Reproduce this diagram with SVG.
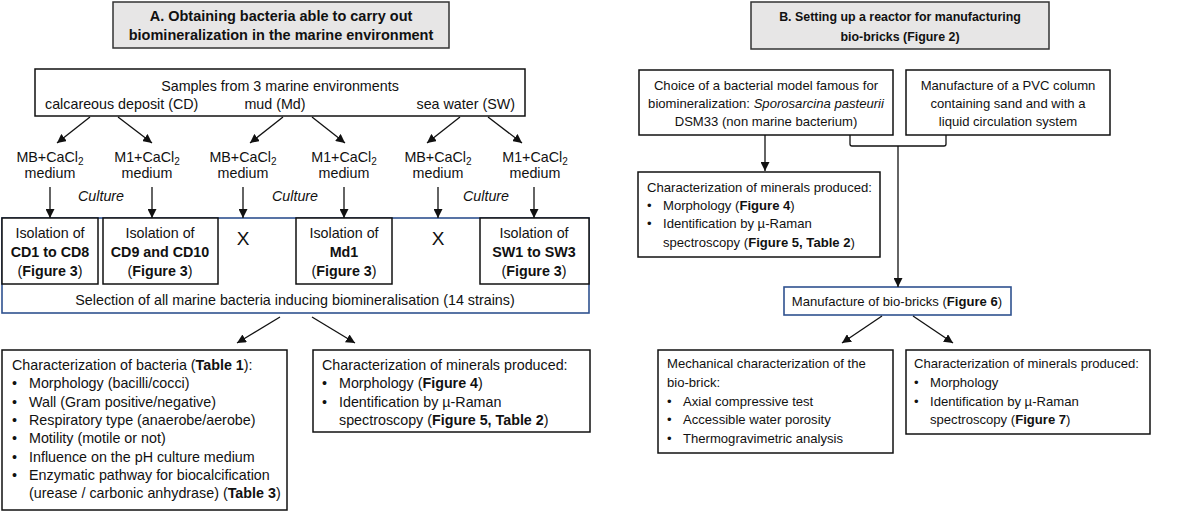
<svg xmlns="http://www.w3.org/2000/svg" width="1200" height="513" viewBox="0 0 1200 513">
<style>
text{font-family:"Liberation Sans",Arial,sans-serif;font-size:14.3px;fill:#111}
.R text{font-size:13.1px}
.c{text-anchor:middle}
.t{font-weight:bold;font-size:14.5px}
.R text.tb{font-weight:bold;font-size:12.4px}
.b{font-weight:bold}
.i{font-style:italic}
.box{fill:#fff;stroke:#111;stroke-width:1.5}
.blue{fill:#fff;stroke:#2F528F;stroke-width:1.6}
.title{fill:#E7E6E6;stroke:#333;stroke-width:1.5}
.ln{fill:none;stroke:#111;stroke-width:1.3}
.sub{font-size:10px}
.x{font-size:19px}
</style>
<defs>
<marker id="ah" viewBox="0 0 10 10" refX="10" refY="5" markerWidth="9" markerHeight="9" markerUnits="userSpaceOnUse" orient="auto">
<path d="M0,0 L10,5 L0,10 z" fill="#111"/>
</marker>
</defs>

<g id="titleA">
<rect class="title" x="113" y="2" width="336" height="46"/>
<text class="c t" x="281" y="21">A. Obtaining bacteria able to carry out</text>
<text class="c t" x="281" y="40">biomineralization in the marine environment</text>
</g>

<g id="samples">
<rect class="box" x="35" y="69" width="490" height="47"/>
<text class="c" x="280" y="91">Samples from 3 marine environments</text>
<text x="45" y="109">calcareous deposit (CD)</text>
<text class="c" x="275" y="109">mud (Md)</text>
<text x="515" y="109" style="text-anchor:end">sea water (SW)</text>
</g>

<g id="media">
<text class="c" x="50" y="162">MB+CaCl<tspan class="sub" dy="3">2</tspan></text>
<text class="c" x="50" y="178">medium</text>
<text class="c" x="147" y="162">M1+CaCl<tspan class="sub" dy="3">2</tspan></text>
<text class="c" x="147" y="178">medium</text>
<text class="c" x="243" y="162">MB+CaCl<tspan class="sub" dy="3">2</tspan></text>
<text class="c" x="243" y="178">medium</text>
<text class="c" x="344" y="162">M1+CaCl<tspan class="sub" dy="3">2</tspan></text>
<text class="c" x="344" y="178">medium</text>
<text class="c" x="438" y="162">MB+CaCl<tspan class="sub" dy="3">2</tspan></text>
<text class="c" x="438" y="178">medium</text>
<text class="c" x="535" y="162">M1+CaCl<tspan class="sub" dy="3">2</tspan></text>
<text class="c" x="535" y="178">medium</text>
<text class="c i" x="101" y="201">Culture</text>
<text class="c i" x="295" y="201">Culture</text>
<text class="c i" x="486" y="201">Culture</text>
</g>

<g id="selection">
<rect class="blue" x="2" y="218" width="587" height="95"/>
<text class="c" x="295" y="305">Selection of all marine bacteria inducing biomineralisation (14 strains)</text>
</g>

<g id="iso1">
<rect class="box" x="2" y="218" width="96" height="66"/>
<text class="c" x="50" y="238">Isolation of</text>
<text class="c b" x="50" y="257">CD1 to CD8</text>
<text class="c" x="50" y="276">(<tspan class="b">Figure 3</tspan>)</text>
</g>
<g id="iso2">
<rect class="box" x="103" y="218" width="115" height="66"/>
<text class="c" x="160" y="238">Isolation of</text>
<text class="c b" x="160" y="257">CD9 and CD10</text>
<text class="c" x="160" y="276">(<tspan class="b">Figure 3</tspan>)</text>
</g>
<g id="x1"><text class="c x" x="243" y="245">X</text></g>
<g id="iso3">
<rect class="box" x="296" y="218" width="96" height="66"/>
<text class="c" x="344" y="238">Isolation of</text>
<text class="c b" x="344" y="257">Md1</text>
<text class="c" x="344" y="276">(<tspan class="b">Figure 3</tspan>)</text>
</g>
<g id="x2"><text class="c x" x="438" y="245">X</text></g>
<g id="iso4">
<rect class="box" x="480" y="218" width="109" height="66"/>
<text class="c" x="534" y="238">Isolation of</text>
<text class="c b" x="534" y="257">SW1 to SW3</text>
<text class="c" x="534" y="276">(<tspan class="b">Figure 3</tspan>)</text>
</g>

<g id="charBact">
<rect class="box" x="2" y="350" width="285" height="160"/>
<text x="12" y="370">Characterization of bacteria (<tspan class="b">Table 1</tspan>):</text>
<text x="12" y="388">•</text><text x="29" y="388">Morphology (bacilli/cocci)</text>
<text x="12" y="407">•</text><text x="29" y="407">Wall (Gram positive/negative)</text>
<text x="12" y="425">•</text><text x="29" y="425">Respiratory type (anaerobe/aerobe)</text>
<text x="12" y="443">•</text><text x="29" y="443">Motility (motile or not)</text>
<text x="12" y="462">•</text><text x="29" y="462">Influence on the pH culture medium</text>
<text x="12" y="480">•</text><text x="29" y="480">Enzymatic pathway for biocalcification</text>
<text x="29" y="498">(urease / carbonic anhydrase) (<tspan class="b">Table 3</tspan>)</text>
</g>

<g id="charMinA">
<rect class="box" x="313" y="350" width="277" height="82"/>
<text x="322" y="370">Characterization of minerals produced:</text>
<text x="322" y="388">•</text><text x="339" y="388">Morphology (<tspan class="b">Figure 4</tspan>)</text>
<text x="322" y="407">•</text><text x="339" y="407">Identification by µ-Raman</text>
<text x="339" y="425">spectroscopy (<tspan class="b">Figure 5, Table 2</tspan>)</text>
</g>

<g id="titleB" class="R">
<rect class="title" x="751" y="2" width="298" height="47"/>
<text class="c tb" x="900" y="21">B. Setting up a reactor for manufacturing</text>
<text class="c tb" x="900" y="41">bio-bricks (Figure 2)</text>
</g>

<g id="choice" class="R">
<rect class="box" x="639" y="70" width="254" height="65"/>
<text class="c" x="766" y="90">Choice of a bacterial model famous for</text>
<text class="c" x="766" y="108">biomineralization: <tspan class="i">Sporosarcina pasteurii</tspan></text>
<text class="c" x="766" y="126">DSM33 (non marine bacterium)</text>
</g>

<g id="pvc" class="R">
<rect class="box" x="906" y="70" width="204" height="65"/>
<text class="c" x="1008" y="90">Manufacture of a PVC column</text>
<text class="c" x="1008" y="108">containing sand and with a</text>
<text class="c" x="1008" y="126">liquid circulation system</text>
</g>

<g id="charMinB" class="R">
<rect class="box" x="638" y="172" width="242" height="85"/>
<text x="647" y="192">Characterization of minerals produced:</text>
<text x="647" y="210">•</text><text x="663" y="210">Morphology (<tspan class="b">Figure 4</tspan>)</text>
<text x="647" y="228">•</text><text x="663" y="228">Identification by µ-Raman</text>
<text x="663" y="247">spectroscopy (<tspan class="b">Figure 5, Table 2</tspan>)</text>
</g>

<g id="biobricks" class="R">
<rect class="blue" x="784" y="287" width="227" height="28"/>
<text class="c" x="897" y="306">Manufacture of bio-bricks (<tspan class="b">Figure 6</tspan>)</text>
</g>

<g id="mech" class="R">
<rect class="box" x="658" y="350" width="235" height="103"/>
<text x="667" y="368">Mechanical characterization of the</text>
<text x="667" y="387">bio-brick:</text>
<text x="667" y="406">•</text><text x="683" y="406">Axial compressive test</text>
<text x="667" y="424">•</text><text x="683" y="424">Accessible water porosity</text>
<text x="667" y="443">•</text><text x="683" y="443">Thermogravimetric analysis</text>
</g>

<g id="charMinC" class="R">
<rect class="box" x="906" y="350" width="244" height="84"/>
<text x="914" y="368">Characterization of minerals produced:</text>
<text x="914" y="387">•</text><text x="930" y="387">Morphology</text>
<text x="914" y="406">•</text><text x="930" y="406">Identification by µ-Raman</text>
<text x="930" y="424">spectroscopy (<tspan class="b">Figure 7</tspan>)</text>
</g>

<g id="connectors">
<line class="ln" x1="90" y1="117" x2="57" y2="143" marker-end="url(#ah)"/>
<line class="ln" x1="118" y1="117" x2="152" y2="143" marker-end="url(#ah)"/>
<line class="ln" x1="283" y1="117" x2="250" y2="143" marker-end="url(#ah)"/>
<line class="ln" x1="312" y1="117" x2="345" y2="143" marker-end="url(#ah)"/>
<line class="ln" x1="460" y1="117" x2="427" y2="143" marker-end="url(#ah)"/>
<line class="ln" x1="488" y1="117" x2="522" y2="143" marker-end="url(#ah)"/>
<line class="ln" x1="50" y1="187" x2="50" y2="218" marker-end="url(#ah)"/>
<line class="ln" x1="152" y1="187" x2="152" y2="218" marker-end="url(#ah)"/>
<line class="ln" x1="243" y1="187" x2="243" y2="218" marker-end="url(#ah)"/>
<line class="ln" x1="344" y1="187" x2="344" y2="218" marker-end="url(#ah)"/>
<line class="ln" x1="438" y1="187" x2="438" y2="218" marker-end="url(#ah)"/>
<line class="ln" x1="534" y1="187" x2="534" y2="218" marker-end="url(#ah)"/>
<line class="ln" x1="280" y1="317" x2="237" y2="343" marker-end="url(#ah)"/>
<line class="ln" x1="312" y1="317" x2="355" y2="343" marker-end="url(#ah)"/>
<line class="ln" x1="765" y1="135" x2="765" y2="171" marker-end="url(#ah)"/>
<path class="ln" d="M850,135 V144 Q850,146 852,146 H944 Q946,146 946,144 V135"/>
<line class="ln" x1="898" y1="146" x2="898" y2="287" marker-end="url(#ah)"/>
<line class="ln" x1="882" y1="316" x2="842" y2="343" marker-end="url(#ah)"/>
<line class="ln" x1="913" y1="316" x2="953" y2="343" marker-end="url(#ah)"/>
</g>
</svg>
